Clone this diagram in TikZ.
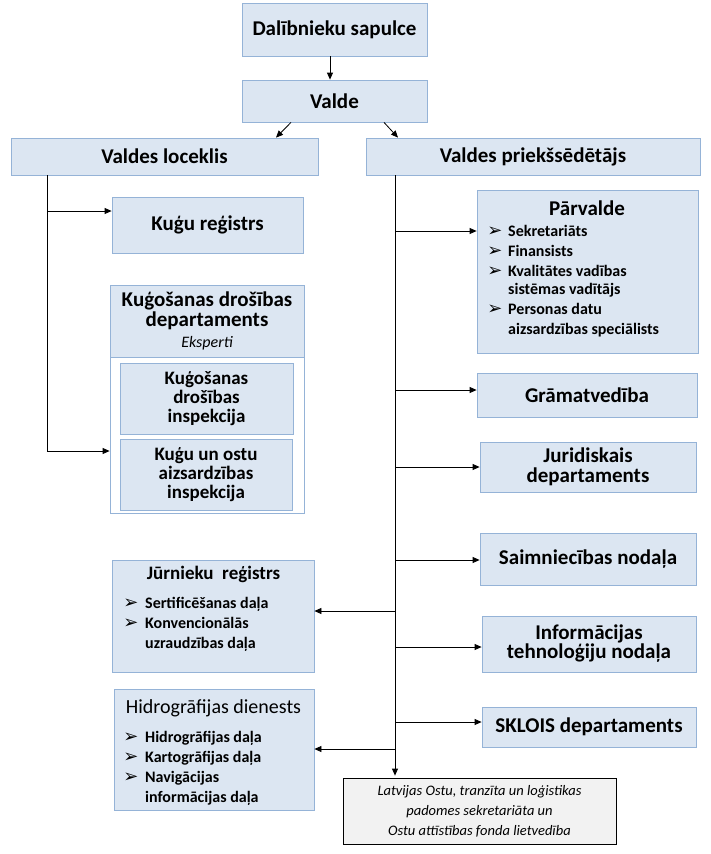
\documentclass[tikz,border=0pt]{standalone}
\usepackage{fontspec}
\setmainfont{Carlito}
\newfontfamily\dejavu{DejaVu Sans}
\usetikzlibrary{arrows.meta}
\definecolor{boxfill}{RGB}{220,230,242}
\definecolor{bord}{RGB}{149,179,215}
\definecolor{greyfill}{RGB}{242,242,242}
\begin{document}
\begin{tikzpicture}[x=1pt,y=-1pt,
  box/.style={draw=bord,fill=boxfill,line width=0.8pt,inner sep=0pt,align=center,
    font=\fontsize{21}{20}\selectfont\bfseries},
  plain/.style={draw=bord,fill=white,line width=0.8pt,inner sep=0pt},
  ttl/.style={inner sep=0pt,anchor=base,font=\fontsize{21}{20}\selectfont\bfseries},
  item/.style={inner sep=0pt,anchor=base west,font=\fontsize{16}{18}\selectfont\bfseries},
  bul/.style={inner sep=0pt,anchor=base,font=\dejavu\fontsize{18}{18}\selectfont},
  ln/.style={line width=0.8pt,black},
  arr/.style={line width=0.8pt,black,-{Triangle[length=7pt,width=6pt]}},
  notebox/.style={draw=black,fill=greyfill,line width=0.8pt,inner sep=0pt,align=center,
    font=\fontsize{14.5}{20}\selectfont\itshape}]
\useasboundingbox (0,0) rectangle (710,854);

% top
\node[box,minimum width=185pt,minimum height=53pt] (dal) at (334.5,29.5) {Dalībnieku sapulce};
\node[box,minimum width=185pt,minimum height=42pt] (valde) at (334.5,101) {Valde};
\node[box,minimum width=307pt,minimum height=37pt] (loc) at (164.5,156.5) {Valdes loceklis};
\node[box,minimum width=334pt,minimum height=37pt] (pri) at (533,156.5) {Valdes priekšsēdētājs};

\draw[arr] ([xshift=-4.5pt]dal.south) -- ([xshift=-4.5pt]valde.north);
\draw[arr] ([xshift=-43.5pt]valde.south) -- ([xshift=111.5pt]loc.north);
\draw[arr] ([xshift=49.5pt]valde.south) -- ([xshift=-135pt]pri.north);

% left branch
\node[box,minimum width=191pt,minimum height=56pt] (kugu) at (207.5,225) {Kuģu reģistrs};
\node[plain,minimum width=194pt,minimum height=228pt] (dept) at (207,399) {};
\node[box,minimum width=194pt,minimum height=72pt,font=\fontsize{21}{20}\selectfont\bfseries] (depth) at (207,321)
  {Kuģošanas drošības\\departaments\\[1pt]{\fontsize{16}{15}\selectfont\mdseries\itshape Eksperti}};
\node[box,minimum width=173pt,minimum height=71pt,font=\fontsize{19}{19}\selectfont\bfseries] (insp1) at (206.5,398.5)
  {Kuģošanas\\drošības\\inspekcija};
\node[box,minimum width=172pt,minimum height=71pt,font=\fontsize{19}{19}\selectfont\bfseries] (insp2) at (206,474.5)
  {Kuģu un ostu\\aizsardzības\\inspekcija};

\coordinate (lv) at ([xshift=-117.5pt]loc.south);
\coordinate (lvb) at (47,451);
\draw[ln] (lv) -- (lvb);
\draw[arr] (lv |- 0,211) -- (kugu.west |- 0,211);
\draw[arr] (lvb) -- (dept.west |- lvb);

% right branch boxes
\node[box,minimum width=221pt,minimum height=163pt] (parv) at (587.5,271.5) {};
\node[ttl] (parvt) at (587,215) {Pārvalde};
\node[bul] (pb1) at (495,236) {➢};
\node[item] (pi1) at (508,236) {Sekretariāts};
\node[bul] (pb2) at (495,256) {➢};
\node[item] (pi2) at (508,256) {Finansists};
\node[bul] (pb3) at (495,276) {➢};
\node[item] (pi3) at (508,276) {Kvalitātes vadības};
\node[item] (pi3b) at (508,294.5) {sistēmas vadītājs};
\node[bul] (pb4) at (495,314) {➢};
\node[item] (pi4) at (508,314) {Personas datu};
\node[item] (pi4b) at (508,334) {aizsardzības speciālists};

\node[box,minimum width=220pt,minimum height=44pt] (gram) at (587,395) {Grāmatvedība};
\node[box,minimum width=216pt,minimum height=50pt] (jurid) at (588,467) {Juridiskais\\departaments};
\node[box,minimum width=216pt,minimum height=52pt] (saim) at (588,559) {Saimniecības nodaļa};
\node[box,minimum width=214pt,minimum height=56pt,font=\fontsize{21}{19}\selectfont\bfseries] (info) at (589,644) {Informācijas\\tehnoloģiju nodaļa};
\node[box,minimum width=214pt,minimum height=40pt] (sklois) at (589,727) {SKLOIS departaments};

% left lower boxes
\node[box,minimum width=202pt,minimum height=112pt] (jurn) at (213,616) {};
\node[ttl,font=\fontsize{19}{20}\selectfont\bfseries] (jurnt) at (213.5,579) {Jūrnieku\ \ reģistrs};
\node[bul] (jb1) at (131,608) {➢};
\node[item] (ji1) at (145,608) {Sertificēšanas daļa};
\node[bul] (jb2) at (131,628) {➢};
\node[item] (ji2) at (145,628) {Konvencionālās};
\node[item] (ji2b) at (145,648) {uzraudzības daļa};

\node[box,minimum width=200pt,minimum height=121pt] (hid) at (214,749.5) {};
\node[ttl,font=\fontsize{20}{20}\selectfont] (hidt) at (213.5,713.5) {Hidrogrāfijas dienests};
\node[bul] (hb1) at (131,742) {➢};
\node[item] (hi1) at (145,742) {Hidrogrāfijas daļa};
\node[bul] (hb2) at (131,762) {➢};
\node[item] (hi2) at (145,762) {Kartogrāfijas daļa};
\node[bul] (hb3) at (131,782) {➢};
\node[item] (hi3) at (145,782) {Navigācijas};
\node[item] (hi3b) at (145,802) {informācijas daļa};

\node[notebox,minimum width=273pt,minimum height=66pt] (latv) at (479.5,811)
  {Latvijas Ostu, tranzīta un loģistikas\\padomes sekretariāta un\\Ostu attīstības fonda lietvedība};

% right trunk
\coordinate (rv) at ([xshift=-138pt]pri.south);
\draw[arr,shorten >=2pt] (rv) -- (rv |- latv.north);
\draw[arr] (rv |- 0,231) -- (parv.west |- 0,231);
\draw[arr] (rv |- 0,390) -- (gram.west |- 0,390);
\draw[arr] (rv |- 0,467) -- (jurid.west |- 0,467);
\draw[arr] (rv |- 0,560) -- (saim.west |- 0,560);
\draw[arr] (rv |- 0,647) -- (info.west |- 0,647);
\draw[arr] (rv |- 0,722) -- (sklois.west |- 0,722);
\draw[arr] (rv |- 0,611) -- (jurn.east |- 0,611);
\draw[arr] (rv |- 0,749) -- (hid.east |- 0,749);
\end{tikzpicture}
\end{document}
